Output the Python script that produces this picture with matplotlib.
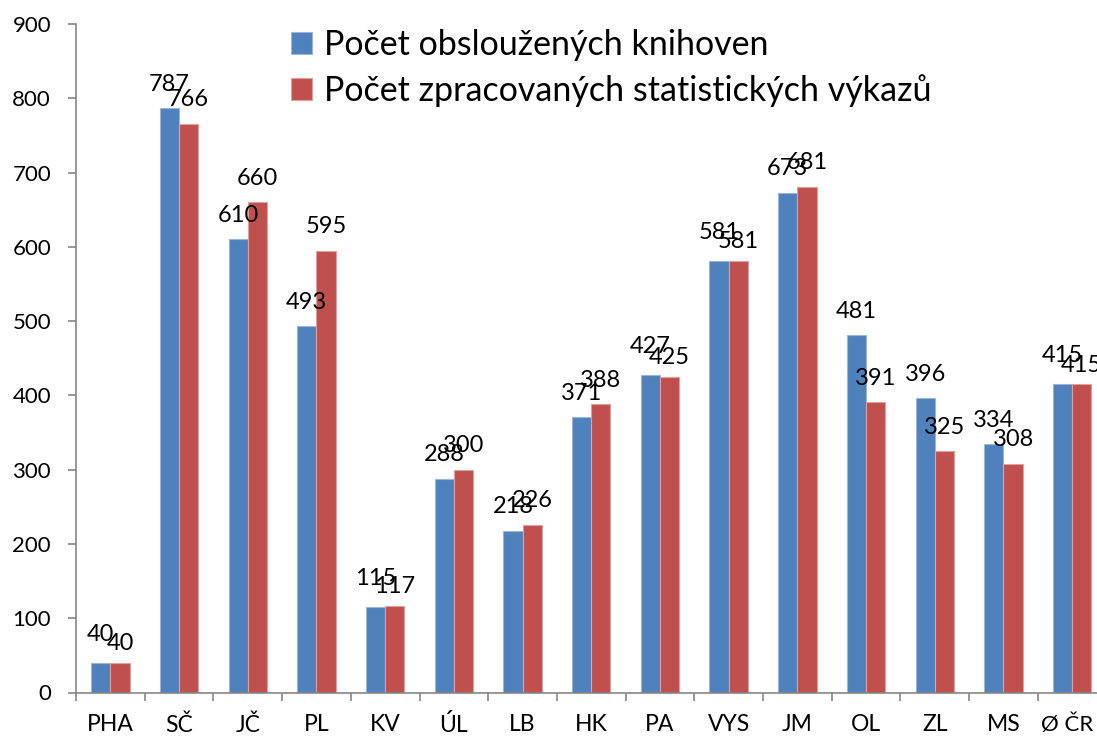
import matplotlib
matplotlib.use("Agg")
import matplotlib.pyplot as plt
import matplotlib.transforms as mtransforms
import numpy as np

categories = ["PHA", "SČ", "JČ", "PL", "KV", "ÚL", "LB", "HK", "PA", "VYS", "JM", "OL", "ZL", "MS", "Ø ČR"]
served = [40, 787, 610, 493, 115, 288, 218, 371, 427, 581, 673, 481, 396, 334, 415]
reports = [40, 766, 660, 595, 117, 300, 226, 388, 425, 581, 681, 391, 325, 308, 415]
series_names = ["Počet obsloužených knihoven", "Počet zpracovaných statistických výkazů"]
yticks = [0, 100, 200, 300, 400, 500, 600, 700, 800, 900]

plt.rcParams['font.family'] = ['Lato', 'DejaVu Sans']

W, H = 1097, 738
fig = plt.figure(figsize=(W / 100, H / 100), dpi=100)
left = 76 / W
right = 1106.5 / W
bottom = (H - 692.5) / H
top = (H - 24) / H
ax = fig.add_axes([left, bottom, right - left, top - bottom])

blue = "#4F81BD"
red = "#C0504D"
x = np.arange(len(categories))
w = 0.28
b1 = ax.bar(x - w / 2, served, w, color=blue, edgecolor="#9DB6D8", linewidth=0.8, label=series_names[0])
b2 = ax.bar(x + w / 2, reports, w, color=red, edgecolor="#E0A09E", linewidth=0.8, label=series_names[1])

# data labels: centred above each bar; when the two values are (almost) equal,
# stagger the pair vertically a little (as the source chart does)
base = 12.5
for r1, r2, v1, v2 in zip(b1, b2, served, reports):
    close = abs(v1 - v2) < 5
    off1 = base + (3.5 if close else 0)
    off2 = base - (3.5 if close else 0)
    for r, v, off in ((r1, v1, off1), (r2, v2, off2)):
        ax.annotate(str(v), (r.get_x() + r.get_width() / 2, v), xytext=(0, off),
                    textcoords="offset points", ha="center", va="baseline",
                    fontsize=17, color="black")

ax.set_xlim(-0.5, len(categories) - 0.5)
ax.set_ylim(0, 900)
ax.set_yticks(yticks)
ax.set_yticklabels([str(t) for t in yticks], fontsize=16)
ax.set_xticks(x)
ax.set_xticklabels(categories, fontsize=16.5)
ax.set_xticks(np.arange(len(categories) + 1) - 0.5, minor=True)

spine_c = "#868686"
for s in ("top", "right"):
    ax.spines[s].set_visible(False)
for s in ("left", "bottom"):
    ax.spines[s].set_color(spine_c)
    ax.spines[s].set_linewidth(1.2)
ax.tick_params(axis="y", length=6, width=1.2, color=spine_c, pad=12)
ax.tick_params(axis="x", which="major", length=0, pad=15.5)
ax.tick_params(axis="x", which="minor", length=6, width=1.2, color=spine_c)

# keep the last category label inside the figure edge (slightly smaller, nudged left)
fig.canvas.draw()
last_tick = ax.xaxis.get_major_ticks()[-1]
last_tick.label1.set_fontsize(16)
last_tick.label1.set_transform(last_tick.label1.get_transform()
                               + mtransforms.ScaledTranslation(-5 / 100, 0, fig.dpi_scale_trans))

leg = fig.legend(handles=[b1, b2], loc="upper left", bbox_to_anchor=(291 / W, 1 - 29 / H),
                 frameon=False, fontsize=24.5, handlelength=0.62, handleheight=0.62,
                 handletextpad=0.36, labelspacing=0.38, borderaxespad=0, borderpad=0)

fig.savefig("out.png", dpi=100)
